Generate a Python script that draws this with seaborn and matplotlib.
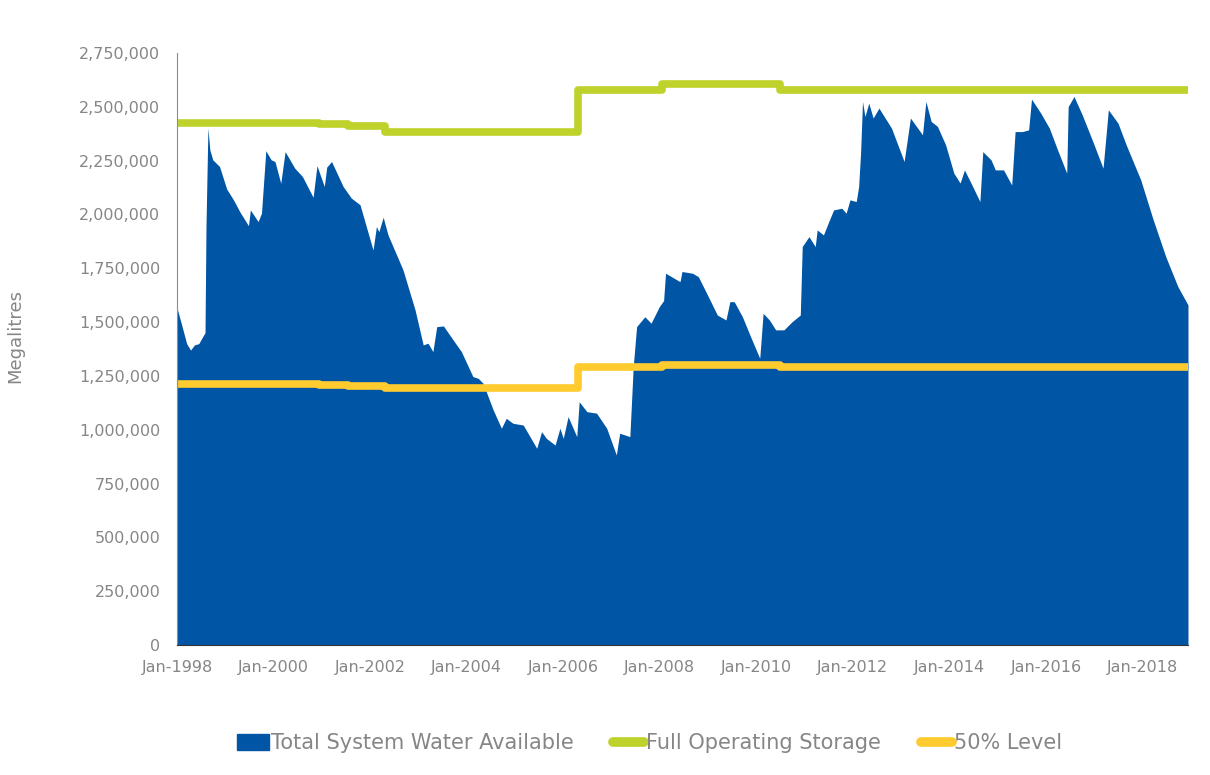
import pandas as pd
import numpy as np
import matplotlib
matplotlib.use('Agg')
import matplotlib.pyplot as plt
import matplotlib.dates as mdates
from matplotlib.patches import Patch
from matplotlib.lines import Line2D
from matplotlib.ticker import FuncFormatter
import seaborn as sns


# total system water available (decimal year, megalitres)
water_years = [1998.00, 1998.08, 1998.20, 1998.28, 1998.36, 1998.45, 1998.55, 1998.58, 1998.60, 1998.64,
               1998.68, 1998.74, 1998.88, 1999.03, 1999.17, 1999.30, 1999.48, 1999.52, 1999.68, 1999.75,
               1999.84, 1999.95, 2000.03, 2000.15, 2000.24, 2000.44, 2000.60, 2000.82, 2000.90, 2001.05,
               2001.10, 2001.20, 2001.44, 2001.61, 2001.79, 2002.06, 2002.13, 2002.18, 2002.27, 2002.37,
               2002.68, 2002.93, 2003.10, 2003.20, 2003.30, 2003.38, 2003.52, 2003.72, 2003.89, 2004.13,
               2004.24, 2004.34, 2004.55, 2004.72, 2004.82, 2004.96, 2005.17, 2005.45, 2005.55, 2005.65,
               2005.83, 2005.93, 2006.00, 2006.10, 2006.28, 2006.33, 2006.49, 2006.69, 2006.90, 2007.10,
               2007.17, 2007.38, 2007.45, 2007.52, 2007.69, 2007.82, 2007.99, 2008.08, 2008.12, 2008.42,
               2008.46, 2008.68, 2008.80, 2009.02, 2009.19, 2009.37, 2009.45, 2009.54, 2009.71, 2009.88,
               2010.07, 2010.14, 2010.27, 2010.40, 2010.57, 2010.74, 2010.91, 2010.95, 2011.09, 2011.22,
               2011.26, 2011.39, 2011.50, 2011.60, 2011.77, 2011.86, 2011.94, 2012.07, 2012.12, 2012.16,
               2012.20, 2012.25, 2012.33, 2012.42, 2012.54, 2012.80, 2013.06, 2013.19, 2013.44, 2013.51,
               2013.62, 2013.75, 2013.92, 2014.09, 2014.22, 2014.31, 2014.48, 2014.63, 2014.69, 2014.86,
               2014.95, 2015.12, 2015.29, 2015.36, 2015.51, 2015.64, 2015.70, 2015.89, 2016.07, 2016.24,
               2016.43, 2016.46, 2016.58, 2016.75, 2016.97, 2017.18, 2017.29, 2017.49, 2017.66, 2017.96,
               2018.22, 2018.48, 2018.73, 2018.94]
water_ml = [1565000, 1500000, 1400000, 1370000, 1394000, 1400000, 1440000, 1450000, 1944000, 2401000,
            2300000, 2254000, 2223000, 2118000, 2068000, 2013000, 1948000, 2021000, 1967000, 2006000,
            2296000, 2254000, 2246000, 2145000, 2292000, 2215000, 2176000, 2080000, 2227000, 2130000,
            2220000, 2246000, 2130000, 2076000, 2045000, 1835000, 1944000, 1920000, 1987000, 1905000,
            1743000, 1557000, 1394000, 1402000, 1363000, 1479000, 1482000, 1417000, 1363000, 1247000,
            1239000, 1216000, 1092000, 1007000, 1053000, 1030000, 1022000, 914000, 991000, 960000,
            929000, 1007000, 960000, 1061000, 968000, 1130000, 1084000, 1077000, 1007000, 883000,
            984000, 968000, 1293000, 1479000, 1525000, 1495000, 1572000, 1600000, 1727000, 1688000,
            1735000, 1727000, 1711000, 1611000, 1533000, 1510000, 1595000, 1595000, 1525000, 1432000,
            1332000, 1541000, 1510000, 1464000, 1464000, 1502000, 1533000, 1851000, 1897000, 1851000,
            1928000, 1905000, 1967000, 2021000, 2029000, 2006000, 2068000, 2060000, 2130000, 2285000,
            2525000, 2455000, 2517000, 2448000, 2494000, 2401000, 2246000, 2448000, 2370000, 2525000,
            2432000, 2409000, 2323000, 2192000, 2146000, 2207000, 2130000, 2060000, 2292000, 2254000,
            2207000, 2207000, 2137000, 2385000, 2385000, 2393000, 2536000, 2471000, 2401000, 2300000,
            2192000, 2501000, 2548000, 2463000, 2339000, 2215000, 2486000, 2424000, 2323000, 2161000,
            1975000, 1804000, 1665000, 1580000]

# full operating storage steps and the 50% level
fos_years = [1998.00, 2000.95, 2001.55, 2002.30, 2006.30, 2008.05, 2010.48, 2018.94]
fos_ml = [2425000, 2420000, 2410000, 2385000, 2580000, 2605000, 2580000, 2580000]
half_ml = [1212500, 1210000, 1205000, 1192500, 1290000, 1302500, 1290000, 1290000]

y_ticks = [0, 250000, 500000, 750000, 1000000, 1250000, 1500000, 1750000, 2000000, 2250000, 2500000, 2750000]


def to_date(yrs):
    out = []
    for y in yrs:
        yr = int(y)
        out.append(pd.Timestamp(year=yr, month=1, day=1) + pd.Timedelta(days=(y - yr) * 365.25))
    return out


water = pd.DataFrame({'date': to_date(water_years), 'ml': water_ml})
levels = pd.DataFrame({'date': to_date(fos_years), 'fos': fos_ml, 'half': half_ml})

blue = '#0055a5'
green = '#bfd22b'
yellow = '#ffcb2f'
grey = '#868686'

sns.set_style('white')
plt.rcParams['font.family'] = ['DejaVu Sans']

fig = plt.figure(figsize=(12.1, 7.75), dpi=100)
ax = fig.add_axes([0.1463, 0.1677, 0.8355, 0.7639])

ax.fill_between(water['date'], 0, water['ml'], color=blue, linewidth=0)
sns.lineplot(data=levels, x='date', y='fos', ax=ax, color=green, linewidth=5.5,
             drawstyle='steps-post', solid_capstyle='butt')
sns.lineplot(data=levels, x='date', y='half', ax=ax, color=yellow, linewidth=5.5,
             drawstyle='steps-post', solid_capstyle='butt')

ax.set_xlim(water['date'].iloc[0], water['date'].iloc[-1])
ax.set_ylim(0, 2750000)
ax.set_yticks(y_ticks)
ax.yaxis.set_major_formatter(FuncFormatter(lambda v, p: f'{int(v):,}'))
ax.xaxis.set_major_locator(mdates.YearLocator(2))
ax.xaxis.set_major_formatter(mdates.DateFormatter('%b-%Y'))

for s in ['top', 'right']:
    ax.spines[s].set_visible(False)
ax.spines['left'].set_color('#8c8c8c')
ax.spines['bottom'].set_color('#333333')
ax.tick_params(axis='both', direction='out', length=5, width=1, color='#8c8c8c',
               labelcolor=grey, labelsize=11.5)
ax.tick_params(axis='y', pad=7)
ax.tick_params(axis='x', color='#333333', pad=6)

ax.set_xlabel('')
ax.set_ylabel('Megalitres', color=grey, fontsize=13)
ax.yaxis.set_label_coords(-0.151, 0.522)

handles = [Patch(facecolor=blue, edgecolor=blue),
           Line2D([0], [0], color=green, linewidth=7, solid_capstyle='round'),
           Line2D([0], [0], color=yellow, linewidth=7, solid_capstyle='round')]
labels = ['Total System Water Available', 'Full Operating Storage', '50% Level']
fig.legend(handles, labels, loc='center', bbox_to_anchor=(0.537, 0.041), ncol=3, frameon=False,
           fontsize=15, labelcolor=grey, handlelength=1.5, handleheight=0.75,
           handletextpad=0.1, columnspacing=1.9)

plt.savefig('out.png', dpi=100)
